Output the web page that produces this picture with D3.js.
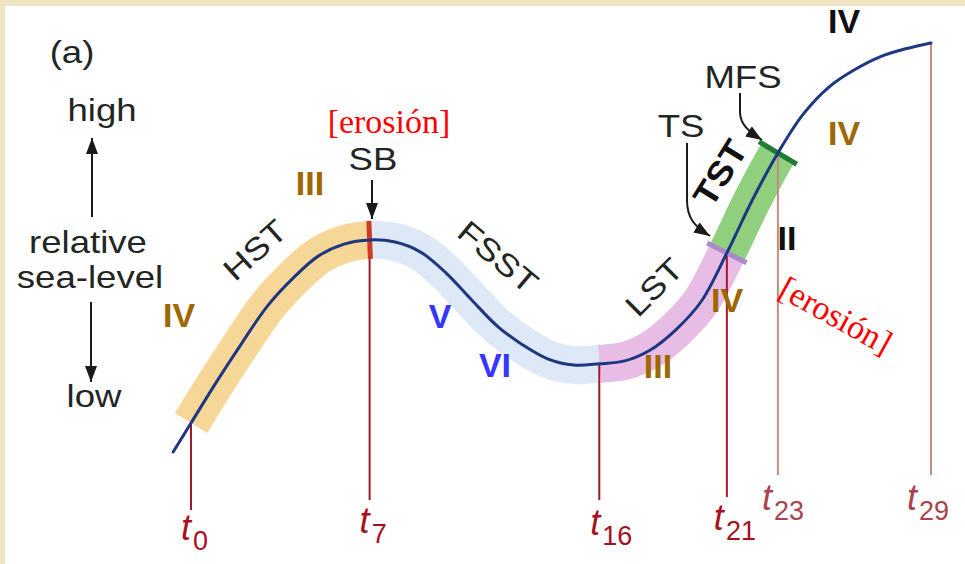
<!DOCTYPE html>
<html>
<head>
<meta charset="utf-8">
<script src="https://cdn.jsdelivr.net/npm/d3@7"></script>
<style>
  html, body { margin: 0; padding: 0; background: #efe5c3; }
  #viz { position: absolute; left: 5px; top: 6px; width: 960px; height: 558px; background: #fff; }
  svg { position: absolute; left: 0; top: 0; }
</style>
</head>
<body>
<div id="viz"></div>
<script>
// relative sea-level curve (time step -> level 0..100)
const times = [-0.7, 0, 1, 2, 3, 4, 5, 6, 7, 8, 9, 10, 11, 12, 13, 14, 15,
  16, 17, 18, 19, 20, 21, 22, 23, 24, 25, 26, 27, 28, 29];
const seaLevel = [1.9, 8.8, 18.6, 27.9, 36.7, 43.3, 48.6, 51.4, 52.4, 51.9, 49.5, 44.5, 38.1, 31.9, 27.4, 24.0, 22.6,
  22.9, 23.6, 26.2, 31.0, 37.8, 49.3, 61.9, 73.1, 82.4, 88.8, 92.9, 96.0, 97.9, 99.3];

// time markers
const markTimes = [0, 7, 16, 21, 23, 29];
const markFaded = [false, false, false, false, true, true];

// systems tracts
const tractNames = ["HST", "FSST", "LST", "TST"];
const tractStart = [0, 7, 16, 21];
const tractEnd = [7, 16, 21, 23];
const tractColors = ["#f6d797", "#dde9f7", "#e7bde6", "#8fcf7e"];

// surfaces
const surfaceTimes = [7, 21, 23];
const surfaceColors = ["#d03a24", "#a98bc9", "#1f7b36"];

const W = 965, H = 564;
const svg = d3.select("body").append("svg").attr("width", W).attr("height", H);

const defs = svg.append("defs");
defs.append("marker")
  .attr("id", "arr")
  .attr("markerUnits", "userSpaceOnUse")
  .attr("viewBox", "0 -6 16 12")
  .attr("refX", 16).attr("refY", 0)
  .attr("markerWidth", 16).attr("markerHeight", 12)
  .attr("orient", "auto")
  .append("path").attr("d", "M0,-6L16,0L0,6Z").attr("fill", "#1a1a1a");

const x = d3.scaleLinear().domain([0, 29]).range([191, 931]);
const y = d3.scaleLinear().domain([0, 100]).range([460, 40]);

const pts = times.map((t, i) => [t, seaLevel[i]]);
const line = d3.line().x(d => x(d[0])).y(d => y(d[1])).curve(d3.curveCatmullRom.alpha(0.5));
const levelAt = t => seaLevel[times.indexOf(t)];

// hidden helper path to measure lengths along the curve
const probe = svg.append("path").attr("d", line(pts)).attr("fill", "none").attr("stroke", "none");
const node = probe.node();
const total = node.getTotalLength();
function lenAtX(px) {
  let lo = 0, hi = total;
  for (let k = 0; k < 40; k++) {
    const mid = (lo + hi) / 2;
    if (node.getPointAtLength(mid).x < px) lo = mid; else hi = mid;
  }
  return (lo + hi) / 2;
}

// tract bands
tractNames.forEach((n, i) => {
  const l0 = lenAtX(x(tractStart[i])), l1 = lenAtX(x(tractEnd[i]));
  svg.append("path")
    .attr("d", line(pts))
    .attr("fill", "none")
    .attr("stroke", tractColors[i])
    .attr("stroke-width", 38)
    .attr("stroke-linecap", "butt")
    .attr("stroke-dasharray", `0,${l0},${l1 - l0},${total * 2}`);
});

// time verticals
const lineBottom = [510, 500, 500, 497, 475, 475];
markTimes.forEach((t, i) => {
  svg.append("line")
    .attr("x1", x(t)).attr("x2", x(t))
    .attr("y1", y(levelAt(t))).attr("y2", lineBottom[i])
    .attr("stroke", markFaded[i] ? "#c48a84" : "#a5172a")
    .attr("stroke-width", 2);
});

// surfaces across the band
surfaceTimes.forEach((t, i) => {
  const L = lenAtX(x(t));
  const p = node.getPointAtLength(L);
  const a = node.getPointAtLength(Math.max(0, L - 1)), b = node.getPointAtLength(L + 1);
  let dx = b.x - a.x, dy = b.y - a.y;
  const m = Math.hypot(dx, dy); dx /= m; dy /= m;
  const half = i === 0 ? 19 : 22;
  svg.append("line")
    .attr("x1", p.x - dy * half).attr("y1", p.y + dx * half)
    .attr("x2", p.x + dy * half).attr("y2", p.y - dx * half)
    .attr("stroke", surfaceColors[i])
    .attr("stroke-width", 5);
});

// sea-level curve
svg.append("path")
  .attr("d", line(pts))
  .attr("fill", "none")
  .attr("stroke", "#1d3880")
  .attr("stroke-width", 3)
  .attr("stroke-linecap", "round");

// text helper
function label(txt, px, py, o = {}) {
  const tx = svg.append("text")
    .attr("transform", `translate(${px},${py}) rotate(${o.rot || 0}) scale(${o.sx || 1},1)`)
    .attr("text-anchor", o.anchor || "middle")
    .attr("font-family", o.family || "'Liberation Sans', Arial, sans-serif")
    .attr("font-size", o.size || 31)
    .attr("font-weight", o.bold ? "bold" : "normal")
    .attr("fill", o.color || "#1f2623")
    .text(txt);
  if (o.mid) tx.attr("dy", "0.35em");
  return tx;
}
const sans = { sx: 1.18 };

label("(a)", 72, 63, sans);
label("high", 102, 121, sans);
label("relative", 88, 253, sans);
label("sea-level", 90, 288, sans);
label("low", 94, 407, sans);

// high / low arrows
svg.append("line").attr("x1", 92).attr("x2", 92).attr("y1", 217).attr("y2", 138)
  .attr("stroke", "#1a1a1a").attr("stroke-width", 2).attr("marker-end", "url(#arr)");
svg.append("line").attr("x1", 91).attr("x2", 91).attr("y1", 302).attr("y2", 382)
  .attr("stroke", "#1a1a1a").attr("stroke-width", 2).attr("marker-end", "url(#arr)");

// tract labels
label("HST", 255, 250, { sx: 1.18, rot: -42, mid: true });
label("FSST", 498, 257, { sx: 1.18, rot: 40, mid: true });
label("LST", 654, 287, { sx: 1.18, rot: -45, mid: true });
label("TST", 720, 173, { sx: 1.1, rot: -58, mid: true, bold: true, size: 34, color: "#111" });

// surfaces labels and arrows
label("SB", 373, 170, sans);
label("TS", 681, 137, sans);
label("MFS", 743, 88, sans);
svg.append("line").attr("x1", 372).attr("x2", 372).attr("y1", 180).attr("y2", 219)
  .attr("stroke", "#1a1a1a").attr("stroke-width", 2).attr("marker-end", "url(#arr)");
svg.append("path").attr("d", "M687,143 L687,200 C687,218 694,226 710,236")
  .attr("fill", "none").attr("stroke", "#1a1a1a").attr("stroke-width", 2).attr("marker-end", "url(#arr)");
svg.append("path").attr("d", "M740,93 L740,112 C740,124 748,131 762,140")
  .attr("fill", "none").attr("stroke", "#1a1a1a").attr("stroke-width", 2).attr("marker-end", "url(#arr)");

// erosion notes
const serif = "'Liberation Serif', 'Times New Roman', serif";
label("[erosión]", 389, 133, { family: serif, size: 34, color: "#ff0000" });
label("[erosión]", 836, 315, { family: serif, size: 34, color: "#ff0000", rot: 29, mid: true });

// roman numerals
const brown = "#9e6700", blue = "#3636ff";
const rom = { bold: true, size: 34 };
label("IV", 179, 327, { ...rom, color: brown });
label("III", 310, 195, { ...rom, color: brown });
label("V", 440, 328, { ...rom, color: blue });
label("VI", 495, 377, { ...rom, color: blue });
label("III", 658, 378, { ...rom, color: brown });
label("IV", 727, 312, { ...rom, color: brown });
label("II", 787, 250, { ...rom, color: "#111" });
label("IV", 844, 145, { ...rom, color: brown });
label("IV", 844, 33, { ...rom, color: "#111" });

// time labels
const tOff = [-10, -10, -9, -13, -16, -24];
const tBase = [540, 533, 535, 530, 510, 510];
markTimes.forEach((t, i) => {
  const col = markFaded[i] ? "#a9434f" : "#a80f20";
  const tx = svg.append("text")
    .attr("x", x(t) + tOff[i]).attr("y", tBase[i])
    .attr("font-family", "'Liberation Sans', Arial, sans-serif")
    .attr("fill", col);
  tx.append("tspan").attr("font-size", 36).attr("font-style", "italic").text("t");
  tx.append("tspan").attr("font-size", 27).attr("dx", 2).attr("dy", 10).text(t);
});
</script>
</body>
</html>
